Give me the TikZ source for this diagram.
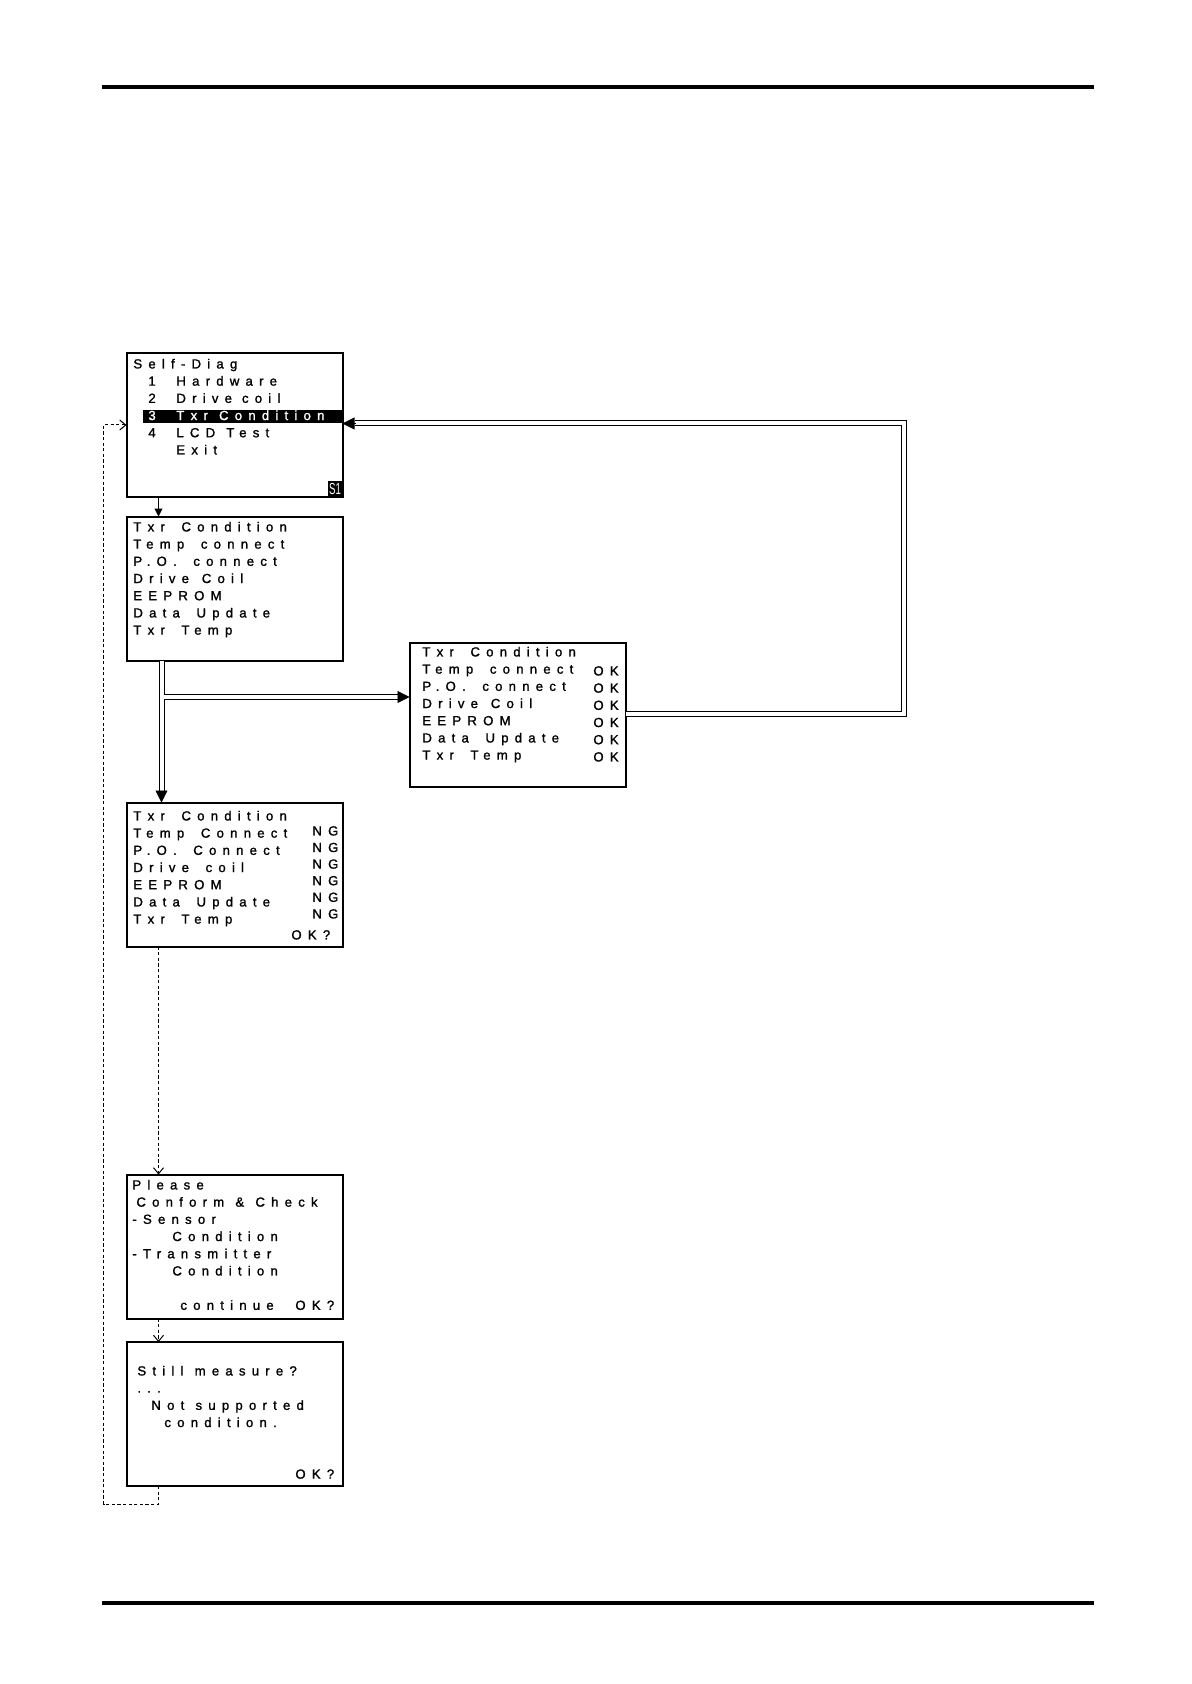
\documentclass[tikz,border=0pt]{standalone}
\usepackage{fontspec}
\setmainfont{Liberation Sans}
\newfontfamily\lcdfont[LetterSpace=47,FakeBold=1.3]{Liberation Sans}
\usetikzlibrary{arrows.meta,positioning}
\newcommand\menuitem[2]{\hspace*{7.5pt}\makebox[14pt][l]{#1}#2}
\newcommand\widegap{\hspace{8.3pt}}
\newcommand\coilgap{\hspace{6.4pt}}
\newcommand\midgap{\hspace{5.6pt}}
\newcommand\tightgap{\hspace{5pt}}

\begin{document}
\begin{tikzpicture}[x=0.5pt, y=-0.5pt,
		screen/.style={draw, line width=1pt, minimum width=108pt, minimum height=72pt, inner sep=0pt, outer sep=0pt},
		lcd/.style={anchor=north west, inner sep=0pt, align=left, font=\lcdfont\fontsize{6.6pt}{8.6pt}\selectfont},
		thin/.style={line width=0.5pt},
		dbl/.style={double, double distance=2pt, line width=0.5pt},
		dsh/.style={line width=0.5pt, dash pattern=on 1.6pt off 1.2pt, -{Straight Barb[length=3pt,width=5pt]}},
		head/.style={-{Triangle[length=6pt,width=6pt]}}]
		
		\useasboundingbox (0,0) rectangle (1191,1684);
		\draw[line width=2pt] (102,87) -- (1094,87);
		\draw[line width=2pt] (102,1603) -- (1094,1603);
		
		\node[screen] (diag) at (234.5,425) {};
		
		\fill (143,410) rectangle (342,423);
		
		\node[lcd] (diagtxt) at (133,356) {\strut Self-Diag\\
			\menuitem{1}{Hardware}\\
			\menuitem{2}{Drive\tightgap coil}\\
			\menuitem{\textcolor{white}{3}}{\textcolor{white}{Txr\midgap Condition}}\\
			\menuitem{4}{LCD\midgap Test}\\
			\menuitem{}{Exit}};
		
		\node[fill=black, text=white, inner sep=0pt, minimum width=7pt, minimum height=8pt, anchor=south east, font=\fontsize{8pt}{8pt}\selectfont] (s1) at (diag.south east) {\scalebox{0.6}[1]{S1}};
		
		\node[screen] (cond) at (234.5,588.5) {};
		
		\node[lcd] (condtxt) at (133,519) {\strut Txr\widegap Condition\\Temp\widegap connect\\P.O.\widegap connect\\Drive\coilgap Coil\\EEPROM\\Data\widegap Update\\Txr\widegap Temp};
		
		\node[screen] (ok) at (517.5,714.5) {};
		
		\node[lcd] (oktxt) at (422,644) {\strut Txr\widegap Condition\\Temp\widegap connect\\P.O.\widegap connect\\Drive\coilgap Coil\\EEPROM\\Data\widegap Update\\Txr\widegap Temp};
		
		\node[lcd] (okcol) at (593,663) {\strut OK\\OK\\OK\\OK\\OK\\OK};
		
		\node[screen] (ng) at (234.5,874.5) {};
		
		\node[lcd] (ngtxt) at (133,808) {\strut Txr\widegap Condition\\Temp\widegap Connect\\P.O.\widegap Connect\\Drive\widegap coil\\EEPROM\\Data\widegap Update\\Txr\widegap Temp};
		
		\node[lcd, font=\lcdfont\fontsize{6.6pt}{8.3pt}\selectfont] (ngcol) at (312,823.4) {\strut NG\\NG\\NG\\NG\\NG\\NG};
		
		\node[lcd] (ngok) at (291,927) {\strut OK?};
		
		\node[screen] (please) at (234.5,1246.5) {};
		
		\node[lcd] (pleasetxt) at (132,1177) {\strut Please\\
			\hspace*{2pt}Conform\midgap\&\midgap Check\\
			-Sensor\\
			\hspace*{20pt}Condition\\
			-Transmitter\\
			\hspace*{20pt}Condition\\
			\\
			\hspace*{24pt}\makebox[57.5pt][l]{continue}OK?};
		
		\node[screen] (still) at (234.5,1414) {};
		
		\node[lcd] (stilltxt) at (137,1363) {\strut Still\midgap measure?\\
			...\\
			\hspace*{7pt}Not\midgap supported\\
			\hspace*{13.5pt}condition.\\
			\\
			\\
			\hspace*{79pt}OK?};
		
		\coordinate (col) at (158.5,0);
		\coordinate (dcol) at (161.5,0);
		\coordinate (split) at (163.5,697);
		\coordinate (ret) at (903.5,713.5);
		\coordinate (back) at (0,423.5);
		\coordinate (loop) at (103.5,1504);
		
		\draw[thin, -{Triangle[length=4pt,width=4pt]}] (diag.south -| col) -- (cond.north -| col);
		
		\draw[dbl, shorten >=5.5pt] (cond.south -| dcol) -- (ng.north -| dcol);
		\draw[head] ([yshift=6pt]ng.north -| dcol) -- (ng.north -| dcol);
		
		\draw[dbl, shorten >=5.5pt] (split) -- (split -| ok.west);
		\draw[head] ([xshift=-6pt]split -| ok.west) -- (split -| ok.west);
		
		\draw[dbl, shorten >=6pt] (ok.east |- ret) -- (ret) |- (diag.east |- back);
		\draw[head] ([xshift=6.5pt]diag.east |- back) -- (diag.east |- back);
		
		\draw[dsh] (ng.south -| col) -- (please.north -| col);
		\draw[dsh] (please.south -| col) -- (still.north -| col);
		\draw[dsh] (still.south -| col) |- (loop) |- (diag.west);
		
	\end{tikzpicture}
\end{document}
